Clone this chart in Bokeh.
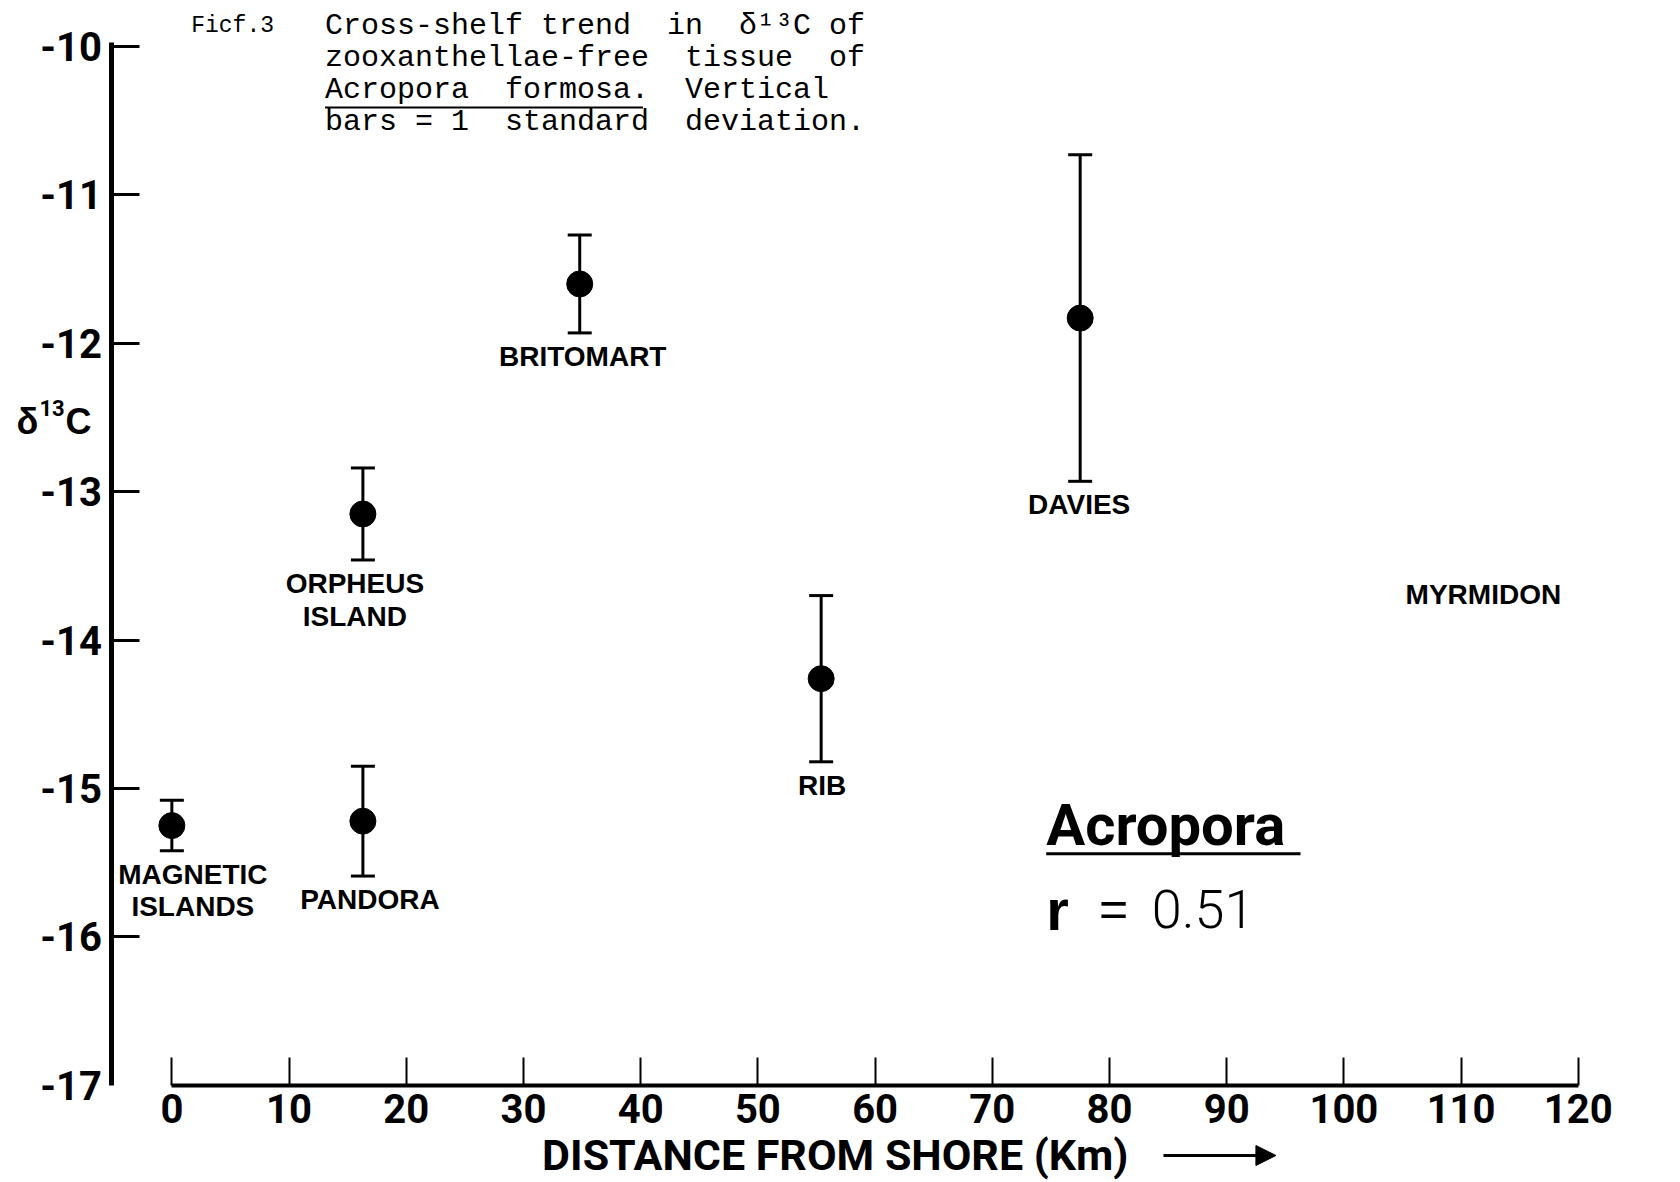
from bokeh.plotting import figure
from bokeh.models import Range1d, FixedTicker, Label, Arrow, NormalHead, ColumnDataSource
from bokeh.core.properties import value
from bokeh.embed import file_html
from bokeh.resources import INLINE

# ---------------- data ----------------
site_names = ["MAGNETIC\nISLANDS", "ORPHEUS\nISLAND", "PANDORA", "BRITOMART", "RIB", "DAVIES"]
distance_km = [0.0, 16.3, 16.3, 34.8, 55.4, 77.5]
d13c_mean = [-15.25, -13.15, -15.22, -11.60, -14.26, -11.83]
d13c_sd = [0.17, 0.31, 0.37, 0.33, 0.56, 1.10]

unplotted_site = "MYRMIDON"
unplotted_site_km = 111.9
unplotted_site_label_y = -13.69

x_ticks = [0, 10, 20, 30, 40, 50, 60, 70, 80, 90, 100, 110, 120]
x_tick_labels = ["0", "10", "20", "30", "40", "50", "60", "70", "80", "90", "100", "110", "120"]
y_ticks = [-16, -15, -14, -13, -12, -11, -10]
y_tick_labels = ["-16", "-15", "-14", "-13", "-12", "-11", "-10"]
y_bottom_value = -17
y_bottom_label = "-17"

x_title = "DISTANCE FROM SHORE (Km)"
y_title_parts = ["δ", "13", "C"]
caption_fig = "Ficf.3"
caption_lines = ["Cross-shelf trend  in  δ¹³C of",
                 "zooxanthellae-free  tissue  of",
                 "Acropora  formosa.  Vertical",
                 "bars = 1  standard  deviation."]
genus = "Acropora"
r_value = "0.51"

# label nudges (screen px) -- styling only
label_dx = [21, -8, 7, 3, 1, -1]

# ---------------- derived ----------------
upper = [m + s for m, s in zip(d13c_mean, d13c_sd)]
lower = [m - s for m, s in zip(d13c_mean, d13c_sd)]
src = ColumnDataSource(dict(x=distance_km, mean=d13c_mean, up=upper, lo=lower,
                            name=site_names, dx=label_dx))

NUM = "Roboto"
SANS = "Liberation Sans"
MONO = "Liberation Mono"
NB = lambda s: s.replace("  ", " \u00a0")

Y_AXIS_AT = -5.12  # km, where the vertical axis stands

p = figure(width=1680, height=1182,
           x_range=Range1d(-14.62, 128.72), y_range=Range1d(-17.655, -9.690),
           output_backend="svg", toolbar_location=None,
           min_border_left=0, min_border_right=0, min_border_top=0, min_border_bottom=0)
p.outline_line_color = None
p.xgrid.visible = False
p.ygrid.visible = False
p.background_fill_color = "white"
p.border_fill_color = "white"

# x axis
xa = p.xaxis[0]
xa.fixed_location = y_bottom_value
xa.ticker = FixedTicker(ticks=x_ticks)
xa.major_label_overrides = {t: l for t, l in zip(x_ticks, x_tick_labels)}
xa.bounds = (0, 120)
xa.axis_line_width = 4
xa.axis_line_color = "black"
xa.major_tick_in = 28
xa.major_tick_out = 0
xa.major_tick_line_width = 2
xa.major_tick_line_color = "black"
xa.minor_tick_line_color = None
xa.major_label_standoff = 9
xa.major_label_text_font = NUM
xa.major_label_text_font_style = "bold"
xa.major_label_text_font_size = "40px"
xa.major_label_text_color = "black"

# y axis
ya = p.yaxis[0]
ya.fixed_location = Y_AXIS_AT
ya.ticker = FixedTicker(ticks=y_ticks)
ya.major_label_overrides = {t: l for t, l in zip(y_ticks, y_tick_labels)}
ya.bounds = (y_bottom_value, -9.97)
ya.axis_line_width = 5
ya.axis_line_color = "black"
ya.major_tick_in = 28
ya.major_tick_out = 0
ya.major_tick_line_width = 3
ya.major_tick_line_color = "black"
ya.minor_tick_line_color = None
ya.major_label_standoff = 10
ya.major_label_text_font = NUM
ya.major_label_text_font_style = "bold"
ya.major_label_text_font_size = "40px"
ya.major_label_text_color = "black"

p.add_layout(Label(x=Y_AXIS_AT, y=y_bottom_value, x_offset=-10, text=y_bottom_label, text_align="right",
                   text_baseline="middle", text_font=NUM, text_font_style="bold",
                   text_font_size="40px", text_color="black"))

# error bars and means
p.segment(x0="x", y0="lo", x1="x", y1="up", source=src, line_width=3, line_color="black")
p.scatter(x="x", y="up", source=src, marker="dash", size=24, line_width=3, line_color="black")
p.scatter(x="x", y="lo", source=src, marker="dash", size=24, line_width=3, line_color="black")
p.scatter(x="x", y="mean", source=src, marker="circle", size=26, fill_color="black", line_color="black")

# site labels
p.text(x="x", y="lo", text="name", source=src, x_offset="dx", y_offset=8,
       text_align="center", text_baseline="top", text_font=value(SANS), text_font_style="bold",
       text_font_size="28px", text_line_height=1.05, text_color="black")
p.text(x=[unplotted_site_km], y=[unplotted_site_label_y], text=[unplotted_site],
       text_align="center", text_baseline="middle", text_font=value(SANS), text_font_style="bold",
       text_font_size="28px", text_color="black")

# caption
p.add_layout(Label(x=1.65, y=-9.863, text=caption_fig, text_font=MONO, text_font_size="23px",
                   text_baseline="middle", text_color="black"))
for i, line in enumerate(caption_lines):
    p.add_layout(Label(x=13.07, y=-9.863, y_offset=-32.1 * i, text=NB(line), text_font=MONO,
                       text_font_size="30px", text_baseline="middle", text_color="black"))
p.line(x=[13.07, 40.2], y=[-10.411, -10.411], line_width=2, line_color="black")

# y axis title: delta, superscript 13, C
p.add_layout(Label(x=-13.26, y=-12.527, text=y_title_parts[0], text_font=SANS, text_font_style="bold",
                   text_font_size="36px", text_baseline="middle", text_color="black"))
p.add_layout(Label(x=-13.26, y=-12.527, x_offset=23, y_offset=14, text=y_title_parts[1], text_font=NUM,
                   text_font_style="bold", text_font_size="22px", text_baseline="middle", text_color="black"))
p.add_layout(Label(x=-13.26, y=-12.527, x_offset=49, text=y_title_parts[2], text_font=SANS,
                   text_font_style="bold", text_font_size="36px", text_baseline="middle", text_color="black"))

# x axis title + arrow
p.add_layout(Label(x=56.6, y=-17.473, text=x_title, text_font=NUM,
                   text_font_style="bold", text_font_size="43px", text_align="center",
                   text_baseline="middle", text_color="black"))
p.add_layout(Arrow(x_start=84.6, y_start=-17.473, x_end=94.2, y_end=-17.473, line_width=3,
                   line_color="black",
                   end=NormalHead(size=20, fill_color="black", line_color="black")))

# Acropora, r
p.add_layout(Label(x=74.6, y=-15.243, text=genus, text_font=NUM, text_font_style="bold",
                   text_font_size="58px", text_baseline="middle", text_color="black"))
p.line(x=[74.6, 96.3], y=[-15.44, -15.44], line_width=3, line_color="black")
p.add_layout(Label(x=74.6, y=-15.813, text="r", text_font=SANS, text_font_style="bold",
                   text_font_size="58px", text_baseline="middle", text_color="black"))
p.add_layout(Label(x=79.1, y=-15.813, text="=", text_font=SANS,
                   text_font_size="50px", text_baseline="middle", text_color="black"))
p.add_layout(Label(x=83.6, y=-15.813, text=r_value, text_font="'Roboto Light', Roboto",
                   text_font_size="54px", text_baseline="middle", text_color="black"))

open("out.html", "w").write(file_html(p, INLINE))
